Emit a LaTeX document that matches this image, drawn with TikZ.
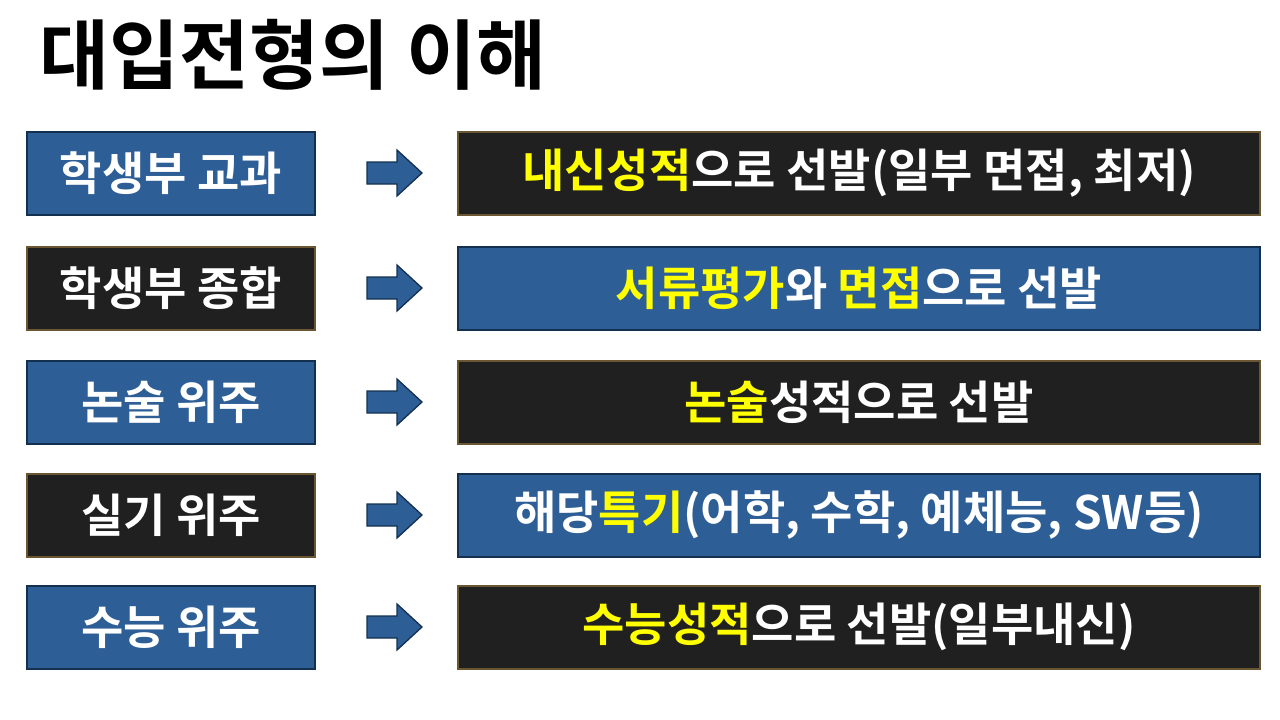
\documentclass[tikz,border=0pt]{standalone}
\usepackage{fontspec}
\setmainfont{Noto Sans CJK KR}[BoldFont={* Bold}]
\definecolor{bfill}{HTML}{2E5E96}
\definecolor{bline}{HTML}{14304F}
\definecolor{kfill}{HTML}{202020}
\definecolor{kline}{HTML}{6B5632}
\definecolor{hl}{HTML}{FFFF00}
\tikzset{
 base/.style={line width=2pt, inner sep=0pt, text=white, font=\fontsize{46}{52}\selectfont\bfseries},
 bluebox/.style={base, fill=bfill, draw=bline},
 blackbox/.style={base, fill=kfill, draw=kline},
 leftbox/.style={minimum width=288pt, minimum height=83pt},
 rightbox/.style={minimum width=802pt, minimum height=83pt},
 blockarrow/.style={fill=bfill, draw=bline, line width=1.3pt, line join=miter}
}
\newcommand{\hy}[1]{\textcolor{hl}{#1}}
\begin{document}
\begin{tikzpicture}[x=1pt,y=-1pt]
\useasboundingbox (0,0) rectangle (1280,720);
\node[anchor=west, font=\fontsize{76}{80}\selectfont\bfseries] (title) at (36,55) {대입전형의 이해};
\foreach \y/\ls/\rs/\lt/\rt [count=\i] in {
 173/bluebox/blackbox/{학생부 교과}/{\hy{내신성적}으로 선발(일부 면접, 최저)},
 288/blackbox/bluebox/{학생부 종합}/{\hy{서류평가}와 \hy{면접}으로 선발},
 402/bluebox/blackbox/{논술 위주}/{\hy{논술}성적으로 선발},
 515/blackbox/bluebox/{실기 위주}/{해당\hy{특기}(어학, 수학, 예체능, SW등)},
 627/bluebox/blackbox/{수능 위주}/{\hy{수능성적}으로 선발(일부내신)}}{
 \node[\ls, leftbox] (l\i) at (171,\y) {\lt};
 \node[\rs, rightbox] (r\i) at (859,\y) {\rt};
 \draw[blockarrow] (367,\y-11) -- (397,\y-11) -- (397,\y-23) -- (422,\y) -- (397,\y+23) -- (397,\y+11) -- (367,\y+11) -- cycle;
}
\end{tikzpicture}
\end{document}
